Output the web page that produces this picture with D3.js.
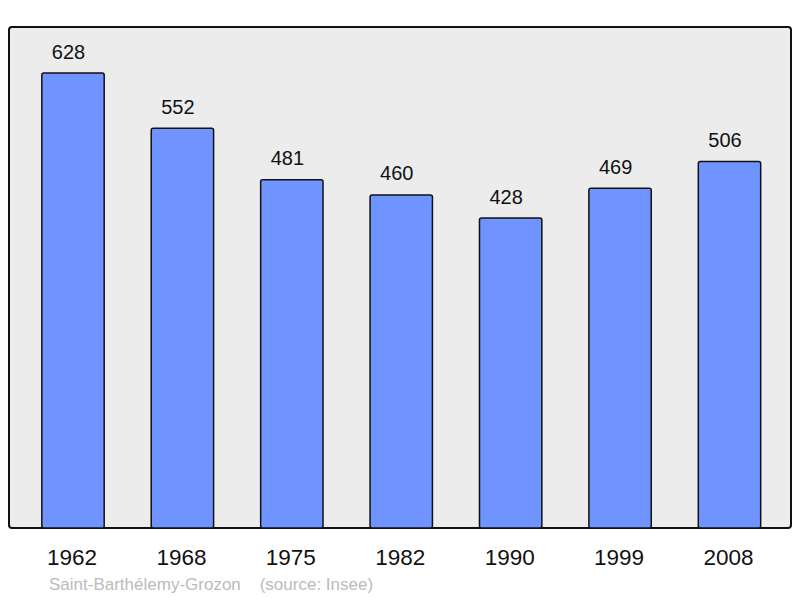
<!DOCTYPE html>
<html><head><meta charset="utf-8">
<script src="https://cdn.jsdelivr.net/npm/d3@7"></script>
<style>html,body{margin:0;padding:0;background:#fff;}svg{display:block;}</style>
</head><body>
<svg id="c" width="800" height="598"></svg>
<script>
const years = ["1962","1968","1975","1982","1990","1999","2008"];
const population = [628,552,481,460,428,469,506];
const footer = "Saint-Barthélemy-Grozon    (source: Insee)";

const svg = d3.select("#c");
const panel = {x0: 9, x1: 791, y0: 27, y1: 528};
svg.append("rect").attr("x", panel.x0).attr("y", panel.y0)
  .attr("width", panel.x1 - panel.x0).attr("height", panel.y1 - panel.y0)
  .attr("rx", 3).attr("fill", "#ececec").attr("stroke", "#111").attr("stroke-width", 2);

const x = d3.scaleBand().domain(years).range([18.3, 784.2]).paddingInner(0.43).paddingOuter(0.215);
const y = d3.scaleLinear().domain([0, d3.max(population) * 1.1]).range([panel.y1, panel.y0]);

svg.selectAll("rect.bar").data(population).join("rect").attr("class", "bar")
  .attr("x", (d, i) => x(years[i])).attr("y", d => y(d) + 0.5)
  .attr("width", x.bandwidth()).attr("height", d => panel.y1 - y(d) - 0.5)
  .attr("rx", 2).attr("fill", "#7094ff").attr("stroke", "#111").attr("stroke-width", 1.5);

svg.selectAll("text.val").data(population).join("text").attr("class", "val")
  .attr("x", (d, i) => x(years[i]) + x.bandwidth() / 2 - 4.5).attr("y", d => y(d) - 14)
  .attr("text-anchor", "middle").attr("font-family", "Liberation Sans, Arial, sans-serif")
  .attr("font-size", 20).attr("fill", "#111").text(d => d);

const xAxis = d3.axisBottom(x).tickSize(0).tickPadding(0);
const ax = svg.append("g").attr("transform", `translate(-1,${panel.y1})`).call(xAxis);
ax.select(".domain").remove();
ax.selectAll("text").attr("y", 37).attr("dy", 0).attr("font-family", "Liberation Sans, Arial, sans-serif")
  .attr("font-size", 22.5).attr("fill", "#111");

svg.append("text").attr("x", 49).attr("y", 590).attr("font-family", "Liberation Sans, Arial, sans-serif")
  .attr("font-size", 17).attr("fill", "#bbb").attr("xml:space", "preserve").style("white-space", "pre").text(footer);
</script>
</body></html>
